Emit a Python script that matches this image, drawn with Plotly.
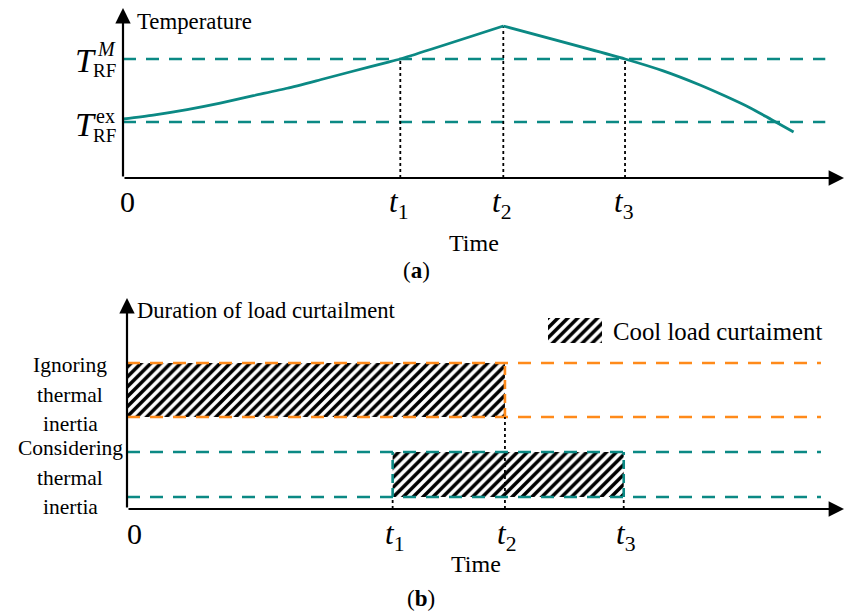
import plotly.graph_objects as go

# ---------------- data: panel (a) ----------------
t_a = [3.85, 5.28, 6.97]                 # t1, t2, t3 on panel (a)
t_labels = ["<i>t</i><sub>1</sub>", "<i>t</i><sub>2</sub>", "<i>t</i><sub>3</sub>"]
time_a = [0, 0.42, 0.89, 1.35, 1.81, 2.28, 2.74, 3.19, 3.67, 3.85, 5.28, 6.97, 7.5, 8.01, 8.36, 8.71, 9.0, 9.31]
temp_a = [3.47, 3.70, 4.02, 4.40, 4.84, 5.28, 5.78, 6.28, 6.80, 7.0, 8.94, 7.0, 6.30, 5.47, 4.82, 4.12, 3.44, 2.71]
T_ex = 3.29
T_M = 7.0
temp_at_t = [7.0, 8.94, 7.0]
line_end_a = 9.75

# ---------------- data: panel (b) ----------------
t_b = [3.69, 5.25, 6.90]                 # t1, t2, t3 on panel (b)
rows = ["Ignoring thermal inertia", "Considering thermal inertia"]
band_lo = [4.36, 0.57]
band_hi = [6.92, 2.70]
cut_start = [0, t_b[0]]
cut_end = [t_b[1], t_b[2]]
line_end_b = 9.64
legend_name = "Cool load curtaiment"

TEAL = "#0b8984"
ORANGE = "#ff8a1a"
row_colors = [ORANGE, TEAL]
FONT = "Liberation Serif"
W, H = 844, 612


def px(x):
    return x / W


def py(y):
    return 1 - y / H


fig = go.Figure()

# ---- panel (a) ----
for lvl in (T_M, T_ex):
    fig.add_trace(go.Scatter(x=[0, line_end_a], y=[lvl, lvl], mode="lines",
                             line=dict(color=TEAL, width=2.6, dash="13px,10px"),
                             xaxis="x", yaxis="y", hoverinfo="skip"))
for t, v in zip(t_a, temp_at_t):
    fig.add_trace(go.Scatter(x=[t, t], y=[0, v], mode="lines",
                             line=dict(color="black", width=1.8, dash="3px,3px"),
                             xaxis="x", yaxis="y", hoverinfo="skip"))
# curve: rising and falling branches, joined at the peak
peak = temp_a.index(max(temp_a))
fig.add_trace(go.Scatter(x=time_a[:peak + 1], y=temp_a[:peak + 1], mode="lines",
                         line=dict(color=TEAL, width=2.8, shape="spline", smoothing=0.6),
                         xaxis="x", yaxis="y"))
fig.add_trace(go.Scatter(x=time_a[peak:], y=temp_a[peak:], mode="lines",
                         line=dict(color=TEAL, width=2.8, shape="spline", smoothing=0.6),
                         xaxis="x", yaxis="y"))

# ---- panel (b) ----
fig.add_trace(go.Bar(
    orientation="h",
    y=[(lo + hi) / 2 for lo, hi in zip(band_lo, band_hi)],
    x=[e - s for s, e in zip(cut_start, cut_end)],
    base=cut_start,
    width=[hi - lo for lo, hi in zip(band_lo, band_hi)],
    marker=dict(color="black", line=dict(width=0),
                pattern=dict(shape="/", fgcolor="black", bgcolor="white",
                             size=7, solidity=0.5, fillmode="replace")),
    xaxis="x2", yaxis="y2", name=legend_name))

for i in range(len(rows)):
    for lvl in (band_lo[i], band_hi[i]):
        fig.add_trace(go.Scatter(x=[0, line_end_b], y=[lvl, lvl], mode="lines",
                                 line=dict(color=row_colors[i], width=2.6, dash="13px,10px"),
                                 xaxis="x2", yaxis="y2", hoverinfo="skip"))
    for edge in (cut_start[i], cut_end[i]):
        if edge > 0:
            fig.add_trace(go.Scatter(x=[edge, edge], y=[band_lo[i], band_hi[i]], mode="lines",
                                     line=dict(color=row_colors[i], width=2.6, dash="9px,5px"),
                                     xaxis="x2", yaxis="y2", hoverinfo="skip"))
            fig.add_trace(go.Scatter(x=[edge, edge], y=[0, band_lo[i]], mode="lines",
                                     line=dict(color="black", width=1.8, dash="3px,3px"),
                                     xaxis="x2", yaxis="y2", hoverinfo="skip"))

# legend swatch
fig.add_trace(go.Bar(orientation="h", y=[0.5], x=[1], base=[0], width=[1],
                     marker=dict(color="black", line=dict(width=0),
                                 pattern=dict(shape="/", fgcolor="black", bgcolor="white",
                                              size=7, solidity=0.5, fillmode="replace")),
                     xaxis="x3", yaxis="y3", hoverinfo="skip"))

ann = []


def arrow(xt, yt, xr, yr):
    ann.append(dict(x=xt, y=yt, ax=0, ay=0, xref=xr, yref=yr, axref=xr, ayref=yr,
                    text="", showarrow=True, arrowhead=2, arrowsize=1.4,
                    arrowwidth=2.2, arrowcolor="black", standoff=0))


arrow(10.01, 0, "x", "y")
arrow(0, 10, "x", "y")
arrow(9.96, 0, "x2", "y2")
arrow(0, 10, "x2", "y2")


def text(s, x, y, size, xanchor="center", yanchor="middle", italic=False):
    ann.append(dict(text=s, x=px(x), y=py(y), xref="paper", yref="paper",
                    xanchor=xanchor, yanchor=yanchor, showarrow=False,
                    font=dict(family=FONT, size=size, color="black",
                              style="italic" if italic else "normal")))


# tick labels via data coordinates
for t, lab in zip(t_a, t_labels):
    ann.append(dict(text=lab, x=t, y=0, xref="x", yref="y", showarrow=False,
                    yanchor="middle", xanchor="center", yshift=-26, xshift=-2,
                    font=dict(family=FONT, size=31, color="black")))
for t, lab in zip(t_b, t_labels):
    ann.append(dict(text=lab, x=t, y=0, xref="x2", yref="y2", showarrow=False,
                    yanchor="middle", xanchor="center", yshift=-27, xshift=2,
                    font=dict(family=FONT, size=31, color="black")))
ann.append(dict(text="0", x=0, y=0, xref="x", yref="y", showarrow=False,
                yanchor="middle", xanchor="center", yshift=-24, xshift=4,
                font=dict(family=FONT, size=30, color="black")))
ann.append(dict(text="0", x=0, y=0, xref="x2", yref="y2", showarrow=False,
                yanchor="middle", xanchor="center", yshift=-24, xshift=7,
                font=dict(family=FONT, size=30, color="black")))

# axis titles
text("Temperature", 135, 22, 22.8, xanchor="left")
text("Time", 474, 243, 24)
text("(<b>a</b>)", 416, 270, 23)
text("Duration of load curtailment", 135, 310, 22.6, xanchor="left")
text("Time", 476, 564, 24)
text("(<b>b</b>)", 421, 598, 23)
text(legend_name, 611, 331, 24.8, xanchor="left")

# y labels panel (a)
text("T", 98, 61, 34, xanchor="right", italic=True)
text("M", 95, 49, 20, xanchor="left", italic=True)
text("RF", 91, 70, 19, xanchor="left")
text("T", 98, 125, 34, xanchor="right", italic=True)
text("ex", 94, 116, 20, xanchor="left")
text("RF", 91, 135, 19, xanchor="left")

# y labels panel (b)
line_y = [[365, 395, 424], [448, 478, 507]]
for words, ys in zip(rows, line_y):
    for w, yy in zip(words.split(" "), ys):
        text(w, 70, yy, 21.5)

fig.update_layout(
    width=W, height=H, margin=dict(l=0, r=0, t=0, b=0),
    paper_bgcolor="white", plot_bgcolor="rgba(0,0,0,0)",
    showlegend=False, barmode="overlay",
    xaxis=dict(domain=[px(123), 1], range=[0, 10.01], visible=False, anchor="y"),
    yaxis=dict(domain=[py(178), py(8)], range=[0, 10], visible=False, anchor="x"),
    xaxis2=dict(domain=[px(127), 1], range=[0, 9.96], visible=False, anchor="y2"),
    yaxis2=dict(domain=[py(509), py(298)], range=[0, 10], visible=False, anchor="x2"),
    xaxis3=dict(domain=[px(548), px(602)], range=[0, 1], visible=False, anchor="y3"),
    yaxis3=dict(domain=[py(343), py(318)], range=[0, 1], visible=False, anchor="x3"),
    annotations=ann,
)

fig.write_html("out.html")
